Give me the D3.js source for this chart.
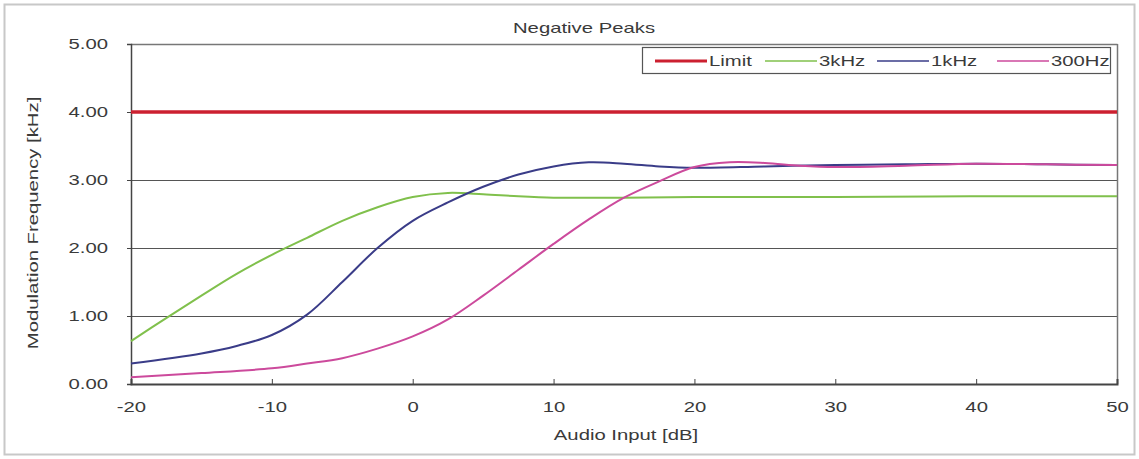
<!DOCTYPE html>
<html><head><meta charset="utf-8">
<script src="https://cdn.jsdelivr.net/npm/d3@7"></script>
<style>body{margin:0;background:#fff}text{font-family:"Liberation Sans",Arial,sans-serif;fill:#3a3a3a}</style>
</head><body><svg id="c" width="1139" height="459"></svg>
<script>
const xTicks = [-20,-10,0,10,20,30,40,50];
const yTicks = [0,1,2,3,4,5];
const limitX = [-20, 50];
const limitY = [4, 4];
const x3k = [-20,-17.5,-15,-12.5,-10,-7.5,-5,-2.5,0,2.5,5,7.5,10,12.5,15,20,30,40,50];
const y3k = [0.63,0.97,1.3,1.62,1.9,2.15,2.4,2.6,2.75,2.81,2.79,2.76,2.74,2.74,2.74,2.75,2.75,2.76,2.76];
const x1k = [-20,-15,-12.5,-10,-7.5,-5,-2.5,0,2.5,5,7.5,10,12.5,15,17.5,20,25,30,35,40,45,50];
const y1k = [0.3,0.45,0.56,0.72,1.02,1.5,2.0,2.4,2.67,2.9,3.08,3.2,3.26,3.24,3.2,3.18,3.2,3.22,3.23,3.24,3.23,3.22];
const x300 = [-20,-15,-10,-7.5,-5,-2.5,0,2.5,5,7.5,10,12.5,15,17.5,20,22.5,25,27.5,30,35,40,45,50];
const y300 = [0.1,0.16,0.23,0.3,0.38,0.52,0.7,0.95,1.3,1.68,2.06,2.42,2.74,2.98,3.19,3.26,3.25,3.21,3.19,3.21,3.24,3.23,3.22];
const seriesNames = ["Limit","3kHz","1kHz","300Hz"];
const colors = ["#cc2030","#80c04c","#3a3c88","#cc4a9c"];

const SX = 1.45, FS = 14;
function stretch(sel){
  sel.each(function(){
    const t = d3.select(this);
    const ax = +t.attr("x") || 0;
    const prev = t.attr("transform") || "";
    t.attr("transform", `${prev} translate(${ax},0) scale(${SX},1) translate(${-ax},0)`);
  });
}

const svg = d3.select("#c");
svg.append("rect").attr("x",4.5).attr("y",4.5).attr("width",1130).attr("height",450).attr("fill","none").attr("stroke","#c8c8c8").attr("stroke-width",2);
const L=131,R=1117,T=44,B=384;
const x = d3.scaleLinear().domain([-20,50]).range([L,R]);
const y = d3.scaleLinear().domain([0,5]).range([B,T]);

// gridlines
svg.append("g").selectAll("line").data(yTicks.filter(d=>d>0&&d<5)).join("line")
  .attr("x1",L).attr("x2",R).attr("y1",d=>y(d)+0.5).attr("y2",d=>y(d)+0.5).attr("stroke","#555").attr("stroke-width",1);
// frame top/right
svg.append("line").attr("x1",L).attr("x2",R+0.5).attr("y1",T+0.5).attr("y2",T+0.5).attr("stroke","#777").attr("stroke-width",1.5);
svg.append("line").attr("x1",R+0.5).attr("x2",R+0.5).attr("y1",T).attr("y2",B).attr("stroke","#777").attr("stroke-width",1.5);

// axes
const yAxis = d3.axisLeft(y).tickValues(yTicks).tickFormat(d3.format(".2f")).tickSize(4).tickPadding(19);
const gy = svg.append("g").attr("transform",`translate(${L},0)`).call(yAxis);
gy.select(".domain").attr("stroke","#444").attr("stroke-width",1.5);
gy.selectAll("line").attr("stroke","#444");
gy.selectAll("text").attr("font-size",FS).style("fill","#3a3a3a").call(stretch);
const xAxis = d3.axisBottom(x).tickValues(xTicks).tickFormat(d=>String(d)).tickSize(-5).tickPadding(18);
const gx = svg.append("g").attr("transform",`translate(0,${B})`).call(xAxis);
gx.select(".domain").attr("stroke","#444").attr("stroke-width",2);
gx.selectAll("line").attr("stroke","#444");
gx.selectAll("text").attr("font-size",FS).style("fill","#3a3a3a").call(stretch);

// series
const line = d3.line().x(d=>x(d[0])).y(d=>y(d[1])).curve(d3.curveCatmullRom.alpha(0.5));
const sets = [[limitX,limitY],[x3k,y3k],[x1k,y1k],[x300,y300]];
const widths=[3.5,2,2,2];
sets.forEach((s,i)=>{
  const pts = s[0].map((v,j)=>[v,s[1][j]]);
  svg.append("path").datum(pts).attr("d",line).attr("fill","none").attr("stroke",colors[i]).attr("stroke-width",widths[i]);
});

// title & labels
svg.append("text").attr("x",0).attr("y",0).attr("text-anchor","middle").attr("font-size",FS)
  .attr("transform",`translate(584,33) scale(${SX},1)`).text("Negative  Peaks");
svg.append("text").attr("x",0).attr("y",0).attr("text-anchor","middle").attr("font-size",FS)
  .attr("transform",`translate(626,440) scale(${SX},1)`).text("Audio Input [dB]");
svg.append("text").attr("x",0).attr("y",0).attr("text-anchor","middle").attr("font-size",FS)
  .attr("transform",`translate(38,223) rotate(-90) scale(${SX},1)`).text("Modulation  Frequency [kHz]");

// legend
const lg = svg.append("g");
lg.append("rect").attr("x",642.5).attr("y",47.5).attr("width",468).attr("height",26).attr("fill","#fff").attr("stroke","#555").attr("stroke-width",1.2);
const lx = [655,765,877,997];
seriesNames.forEach((n,i)=>{
  lg.append("line").attr("x1",lx[i]).attr("x2",lx[i]+52).attr("y1",61).attr("y2",61).attr("stroke",colors[i]).attr("stroke-width",i==0?3:1.5);
  lg.append("text").attr("x",lx[i]+54).attr("y",66).attr("font-size",FS).call(stretch).text(n);
});
</script></body></html>
